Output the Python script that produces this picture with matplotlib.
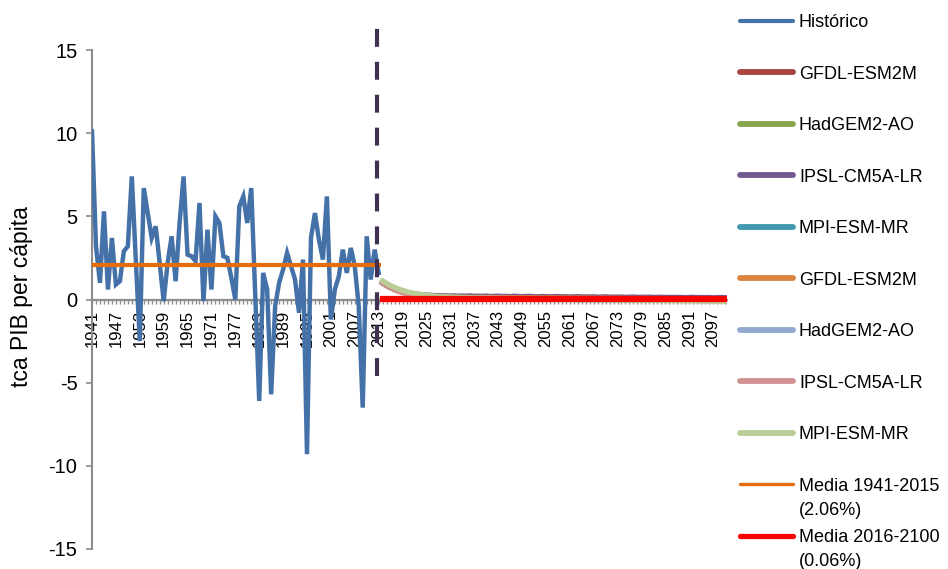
import numpy as np
import matplotlib
matplotlib.use('Agg')
import matplotlib.pyplot as plt
from matplotlib.lines import Line2D

plt.rcParams['font.family'] = ['Liberation Sans', 'DejaVu Sans']
plt.rcParams['axes.unicode_minus'] = False

# historical series 1941-2013
hist_start = 1941
historico = [10.1, 3.2, 1.0, 5.3, 0.6, 3.7, 0.9, 1.1, 2.9, 3.2,
             7.4, 2.4, -2.5, 6.7, 5.2, 3.7, 4.4, 2.2, -0.1, 2.2,
             3.8, 1.1, 4.6, 7.4, 2.7, 2.6, 2.3, 5.8, -0.1, 4.2,
             0.6, 5.0, 4.6, 2.6, 2.5, 1.3, 0.0, 5.6, 6.2, 4.6,
             6.7, 0.3, -6.1, 1.6, 0.6, -5.7, -0.4, 1.0, 1.8, 2.8,
             2.0, 1.2, -0.8, 2.4, -9.3, 3.7, 5.2, 3.6, 2.4, 6.2,
             -1.2, 0.6, 1.4, 3.0, 1.6, 3.1, 2.0, -0.4, -6.5, 3.8,
             1.2, 3.0, 1.6]

# projections 2014-2100
proj_start = 2014
gfdl = [1.00, 0.85, 0.72, 0.61, 0.52, 0.45, 0.39, 0.34, 0.30, 0.27, 0.24, 0.22, 0.20, 0.19, 0.18,
        0.17, 0.16, 0.16, 0.15, 0.15, 0.14, 0.14, 0.15, 0.13, 0.14, 0.13, 0.13, 0.14, 0.12, 0.13,
        0.12, 0.13, 0.12, 0.12, 0.11, 0.12, 0.11, 0.12, 0.11, 0.11, 0.12, 0.10, 0.11, 0.11, 0.10,
        0.11, 0.10, 0.10, 0.11, 0.10, 0.10, 0.09, 0.10, 0.10, 0.09, 0.10, 0.09, 0.09, 0.10, 0.09,
        0.09, 0.09, 0.08, 0.09, 0.09, 0.08, 0.09, 0.08, 0.08, 0.09, 0.08, 0.08, 0.08, 0.07, 0.08,
        0.08, 0.07, 0.08, 0.07, 0.07, 0.08, 0.07, 0.07, 0.06, 0.07, 0.07, 0.06]
hadgem = [1.05, 0.90, 0.77, 0.66, 0.57, 0.49, 0.43, 0.38, 0.33, 0.30, 0.27, 0.24, 0.22, 0.20, 0.19,
          0.18, 0.17, 0.16, 0.16, 0.15, 0.15, 0.14, 0.14, 0.13, 0.14, 0.13, 0.13, 0.12, 0.13, 0.12,
          0.12, 0.11, 0.12, 0.11, 0.11, 0.10, 0.11, 0.10, 0.10, 0.11, 0.10, 0.09, 0.10, 0.09, 0.10,
          0.09, 0.09, 0.08, 0.09, 0.09, 0.08, 0.08, 0.09, 0.08, 0.08, 0.07, 0.08, 0.08, 0.07, 0.07,
          0.08, 0.07, 0.07, 0.06, 0.07, 0.07, 0.06, 0.06, 0.07, 0.06, 0.06, 0.05, 0.06, 0.06, 0.05,
          0.05, 0.06, 0.05, 0.05, 0.04, 0.05, 0.05, 0.04, 0.04, 0.05, 0.04, 0.04]
ipsl = [0.98, 0.83, 0.70, 0.60, 0.51, 0.45, 0.40, 0.36, 0.33, 0.30, 0.28, 0.27, 0.25, 0.24, 0.23,
        0.22, 0.22, 0.21, 0.22, 0.20, 0.21, 0.20, 0.22, 0.19, 0.20, 0.19, 0.21, 0.18, 0.19, 0.20,
        0.18, 0.19, 0.17, 0.20, 0.18, 0.17, 0.18, 0.19, 0.17, 0.16, 0.18, 0.17, 0.16, 0.17, 0.18,
        0.16, 0.17, 0.15, 0.16, 0.17, 0.15, 0.16, 0.15, 0.16, 0.14, 0.15, 0.16, 0.14, 0.15, 0.14,
        0.15, 0.13, 0.14, 0.15, 0.13, 0.14, 0.13, 0.14, 0.12, 0.13, 0.14, 0.12, 0.13, 0.12, 0.13,
        0.12, 0.11, 0.12, 0.13, 0.11, 0.12, 0.11, 0.12, 0.10, 0.11, 0.12, 0.11]
mpi = [1.02, 0.86, 0.73, 0.62, 0.53, 0.46, 0.40, 0.35, 0.31, 0.28, 0.25, 0.23, 0.21, 0.19, 0.18,
       0.17, 0.16, 0.15, 0.14, 0.14, 0.13, 0.13, 0.12, 0.12, 0.11, 0.12, 0.11, 0.11, 0.10, 0.11,
       0.10, 0.10, 0.09, 0.10, 0.09, 0.09, 0.10, 0.09, 0.08, 0.09, 0.08, 0.09, 0.08, 0.08, 0.07,
       0.08, 0.08, 0.07, 0.08, 0.07, 0.07, 0.06, 0.07, 0.07, 0.06, 0.07, 0.06, 0.06, 0.05, 0.06,
       0.06, 0.05, 0.06, 0.05, 0.05, 0.04, 0.05, 0.05, 0.04, 0.05, 0.04, 0.04, 0.03, 0.04, 0.04,
       0.03, 0.04, 0.03, 0.03, 0.02, 0.03, 0.03, 0.02, 0.03, 0.02, 0.02, 0.02]
gfdl_b = [1.00, 0.84, 0.71, 0.60, 0.51, 0.44, 0.38, 0.33, 0.29, 0.26, 0.23, 0.21, 0.19, 0.18, 0.17,
          0.16, 0.15, 0.15, 0.14, 0.14, 0.13, 0.13, 0.14, 0.12, 0.13, 0.12, 0.12, 0.13, 0.11, 0.12,
          0.11, 0.12, 0.11, 0.11, 0.10, 0.11, 0.10, 0.11, 0.10, 0.10, 0.09, 0.10, 0.10, 0.09, 0.10,
          0.09, 0.09, 0.08, 0.09, 0.09, 0.08, 0.09, 0.08, 0.08, 0.07, 0.08, 0.08, 0.07, 0.08, 0.07,
          0.07, 0.06, 0.07, 0.07, 0.06, 0.07, 0.06, 0.06, 0.05, 0.06, 0.06, 0.05, 0.06, 0.05, 0.05,
          0.04, 0.05, 0.05, 0.04, 0.05, 0.04, 0.04, 0.03, 0.04, 0.04, 0.03, 0.04]
hadgem_b = [1.04, 0.88, 0.74, 0.62, 0.52, 0.44, 0.37, 0.31, 0.26, 0.22, 0.19, 0.16, 0.14, 0.12, 0.10,
            0.09, 0.08, 0.07, 0.06, 0.06, 0.05, 0.05, 0.04, 0.04, 0.03, 0.04, 0.03, 0.03, 0.02, 0.03,
            0.02, 0.02, 0.01, 0.02, 0.01, 0.01, 0.02, 0.01, 0.00, 0.01, 0.00, 0.01, 0.00, 0.00, -0.01,
            0.00, -0.01, 0.00, -0.01, -0.01, -0.02, -0.01, -0.01, -0.02, -0.01, -0.02, -0.02, -0.01, -0.02, -0.03,
            -0.02, -0.02, -0.03, -0.02, -0.03, -0.02, -0.03, -0.03, -0.02, -0.03, -0.04, -0.03, -0.03, -0.04, -0.03,
            -0.04, -0.03, -0.04, -0.04, -0.03, -0.04, -0.05, -0.04, -0.04, -0.05, -0.04, -0.05]
ipsl_b = [1.00, 0.84, 0.70, 0.59, 0.49, 0.41, 0.35, 0.30, 0.26, 0.23, 0.20, 0.18, 0.16, 0.15, 0.14,
          0.13, 0.12, 0.12, 0.11, 0.11, 0.10, 0.11, 0.10, 0.09, 0.10, 0.09, 0.09, 0.08, 0.09, 0.08,
          0.08, 0.07, 0.08, 0.07, 0.07, 0.06, 0.07, 0.06, 0.06, 0.05, 0.06, 0.05, 0.05, 0.04, 0.05,
          0.04, 0.04, 0.03, 0.04, 0.03, 0.03, 0.02, 0.03, 0.02, 0.02, 0.01, 0.02, 0.01, 0.01, 0.00,
          0.01, 0.00, 0.00, -0.01, 0.00, -0.01, -0.01, -0.02, -0.01, -0.02, -0.02, -0.03, -0.02, -0.03, -0.03,
          -0.04, -0.03, -0.04, -0.04, -0.05, -0.04, -0.05, -0.05, -0.06, -0.05, -0.06, -0.06]
mpi_b = [1.12, 0.97, 0.84, 0.73, 0.63, 0.55, 0.48, 0.42, 0.37, 0.33, 0.29, 0.26, 0.23, 0.21, 0.19,
         0.17, 0.16, 0.15, 0.14, 0.13, 0.12, 0.11, 0.11, 0.10, 0.09, 0.09, 0.08, 0.08, 0.07, 0.07,
         0.06, 0.06, 0.05, 0.05, 0.04, 0.04, 0.04, 0.03, 0.03, 0.03, 0.02, 0.02, 0.02, 0.01, 0.01,
         0.01, 0.00, 0.00, 0.00, -0.01, -0.01, -0.01, -0.02, -0.02, -0.02, -0.03, -0.03, -0.03, -0.03, -0.04,
         -0.04, -0.04, -0.04, -0.05, -0.05, -0.05, -0.05, -0.06, -0.06, -0.06, -0.06, -0.07, -0.07, -0.07, -0.07,
         -0.08, -0.08, -0.08, -0.08, -0.09, -0.09, -0.09, -0.09, -0.10, -0.10, -0.10, -0.10]

media_hist = 2.06
media_proj = 0.06
proj_end = 2100
corte = 2012.5      # dashed separator

series = [('GFDL-ESM2M', gfdl, '#A9443F'),
          ('HadGEM2-AO', hadgem, '#89A54E'),
          ('IPSL-CM5A-LR', ipsl, '#71588F'),
          ('MPI-ESM-MR', mpi, '#4198AF'),
          ('GFDL-ESM2M', gfdl_b, '#DB843D'),
          ('HadGEM2-AO', hadgem_b, '#93A9CF'),
          ('IPSL-CM5A-LR', ipsl_b, '#D19392'),
          ('MPI-ESM-MR', mpi_b, '#B9CD96')]

W, H = 948, 569
fig = plt.figure(figsize=(W / 100, H / 100), dpi=100)
ax = fig.add_axes([92 / W, 1 - 549 / H, 635 / W, (549 - 50) / H])

yrs_hist = np.arange(hist_start, hist_start + len(historico))
ax.plot(yrs_hist, historico, color='#4472A8', lw=3.2, solid_joinstyle='miter', zorder=3)

for name, vals, col in series:
    yrs = np.arange(proj_start, proj_start + len(vals))
    ax.plot(yrs, vals, color=col, lw=3.8, zorder=3)

ax.plot([hist_start, yrs_hist[-1]], [media_hist, media_hist], color='#E46C0A', lw=3.0, zorder=4)
ax.plot([proj_start, proj_end], [media_proj, media_proj], color='#FF0000', lw=4.5, zorder=4)

ax.plot([corte, corte], [-4.6, 17.1], color='#403152', lw=3.0, dashes=(4.3, 3.6),
        clip_on=False, zorder=5)

ax.set_xlim(1941, 2100.5)
ax.set_ylim(-15, 15)

for s in ['top', 'right']:
    ax.spines[s].set_visible(False)
ax.spines['bottom'].set_position(('data', 0))
ax.spines['bottom'].set_color('#8C8C8C')
ax.spines['bottom'].set_linewidth(1.6)
ax.spines['bottom'].set_zorder(2)
ax.spines['left'].set_color('#8C8C8C')
ax.spines['left'].set_linewidth(1.5)

ax.set_yticks(np.arange(-15, 16, 5))
ax.tick_params(axis='y', direction='out', length=4.5, width=1.2, color='#8C8C8C',
               labelsize=14.5, pad=6)

xt = np.arange(1941, 2100, 6)
ax.set_xticks(xt)
ax.set_xticklabels([str(v) for v in xt], rotation=90)
ax.set_xticks(np.arange(1941, 2101), minor=True)
ax.tick_params(axis='x', which='both', direction='out', length=3.2, width=1.0,
               color='#8C8C8C', labelsize=12, pad=4)
for lab in ax.get_xticklabels():
    lab.set_va('top')

fig.text(22 / W, 1 - 297 / H, 'tca PIB per cápita', rotation=90, ha='center', va='center',
         fontsize=16.5)

# legend drawn by hand to keep Excel spacing
leg = [('Histórico', None, '#4472A8', 3.0)]
for name, vals, col in series:
    leg.append((name, None, col, 4.2))
leg.append(('Media 1941-2015', '(2.06%)', '#E46C0A', 2.4))
leg.append(('Media 2016-2100', '(0.06%)', '#FF0000', 3.8))

y0, dy = 20.7, 51.5
for k, (l1, l2, col, lw) in enumerate(leg):
    yy = y0 + k * dy
    fig.add_artist(Line2D([740 / W, 793 / W], [1 - yy / H, 1 - yy / H],
                          transform=fig.transFigure, color=col, lw=lw,
                          solid_capstyle='round'))
    fig.text(799 / W, 1 - yy / H, l1, ha='left', va='center_baseline', fontsize=13)
    if l2:
        fig.text(799 / W, 1 - (yy + 24) / H, l2, ha='left', va='center_baseline', fontsize=13)

fig.savefig('out.png', dpi=100)
